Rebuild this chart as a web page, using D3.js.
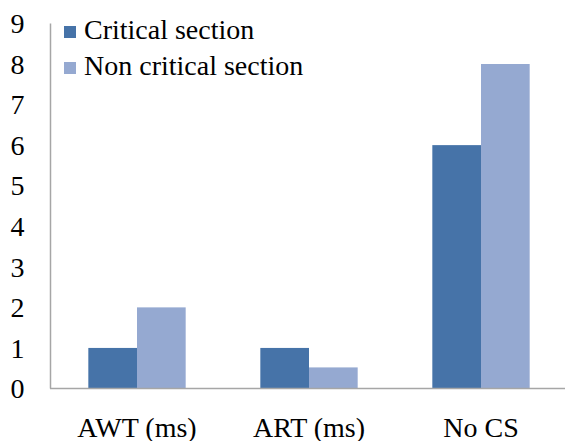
<!DOCTYPE html>
<html>
<head>
<meta charset="utf-8">
<script src="https://cdn.jsdelivr.net/npm/d3@7"></script>
</head>
<body style="margin:0;background:#fff">
<svg id="chart" width="565" height="441" style="display:block"></svg>
<script>
const categories = ["AWT (ms)", "ART (ms)", "No CS"];
const seriesNames = ["Critical section", "Non critical section"];
const critical = [1, 1, 6];
const nonCritical = [2, 0.52, 8];
const yTicks = [0, 1, 2, 3, 4, 5, 6, 7, 8, 9];
const colors = ["#4673A8", "#95A9D1"];

const seriesValues = [critical, nonCritical];
const svg = d3.select("#chart");
const FONT = "Liberation Serif";
const FS = 28;

const y = d3.scaleLinear().domain([0, 8]).range([388.5, 64]);
const x0 = d3.scaleBand().domain(categories).range([51, 567]).padding(0);
const x1 = d3.scaleBand().domain(seriesNames)
  .range([x0.bandwidth() * 0.217, x0.bandwidth() * 0.783]).padding(0);

// bars
const groups = svg.append("g").selectAll("g")
  .data(categories).join("g")
  .attr("transform", d => `translate(${x0(d)},0)`);
groups.selectAll("rect")
  .data((c, i) => seriesNames.map((s, j) => ({ s, v: seriesValues[j][i], j })))
  .join("rect")
  .attr("x", d => x1(d.s))
  .attr("width", x1.bandwidth())
  .attr("y", d => y(d.v))
  .attr("height", d => y(0) - y(d.v))
  .attr("fill", d => colors[d.j]);

// y axis
const yAxis = d3.axisLeft(y).tickValues(yTicks).tickSize(0).tickPadding(26)
  .tickFormat(d3.format("d"));
const gy = svg.append("g").attr("transform", "translate(50.5,0)").call(yAxis);
gy.attr("font-family", FONT).attr("font-size", FS);
gy.select(".domain").remove();
gy.selectAll("text").attr("font-family", FONT).attr("font-size", FS)
  .attr("fill", "#000").attr("dy", "0.33em");
svg.append("line").attr("x1", 50.5).attr("x2", 50.5)
  .attr("y1", y(9)).attr("y2", y(0))
  .attr("stroke", "#A6A6A6").attr("stroke-width", 1.5);

// x axis
const xAxis = d3.axisBottom(x0).tickSize(0).tickPadding(48);
const gx = svg.append("g").attr("transform", `translate(0,${y(0)})`).call(xAxis);
gx.attr("font-family", FONT).attr("font-size", FS);
gx.select(".domain").remove();
gx.selectAll("text").attr("font-family", FONT).attr("font-size", FS)
  .attr("fill", "#000").attr("dy", "0");
svg.append("line").attr("x1", 50).attr("x2", 565)
  .attr("y1", y(0)).attr("y2", y(0))
  .attr("stroke", "#A6A6A6").attr("stroke-width", 1.5);

// legend
const legend = svg.append("g");
const legendY = [39, 75];
seriesNames.forEach((s, j) => {
  legend.append("rect").attr("x", 64).attr("y", legendY[j] - 13)
    .attr("width", 12).attr("height", 12).attr("fill", colors[j]);
  legend.append("text").attr("x", 84).attr("y", legendY[j])
    .attr("font-family", FONT).attr("font-size", FS).attr("fill", "#000").text(s);
});
</script>
</body>
</html>
